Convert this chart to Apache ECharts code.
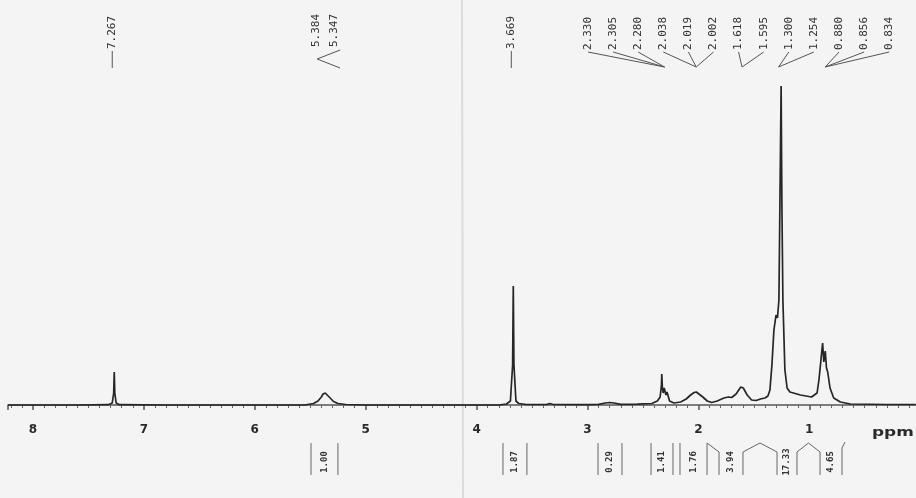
<!DOCTYPE html>
<html><head><meta charset="utf-8">
<script src="https://cdn.jsdelivr.net/npm/echarts@6/dist/echarts.min.js"></script>
<style>html,body{margin:0;padding:0;background:#f4f4f4}#c{width:916px;height:498px}</style>
</head><body><div id="c"></div>
<script>
// ---- spectrum trace (chemical shift in ppm, relative intensity) ----
const shiftPpm = [8.225,7.60,7.32,7.285,7.272,7.267,7.262,7.250,7.22,6.80,6.20,5.55,5.47,5.43,5.40,5.384,5.365,5.347,5.32,5.29,5.25,5.18,5.00,4.40,3.80,3.73,3.695,3.675,3.669,3.663,3.645,3.62,3.55,3.37,3.34,3.31,3.00,2.90,2.84,2.80,2.76,2.70,2.55,2.42,2.37,2.345,2.333,2.330,2.325,2.318,2.308,2.305,2.300,2.293,2.283,2.280,2.275,2.26,2.22,2.16,2.11,2.07,2.038,2.019,2.002,1.96,1.92,1.88,1.83,1.77,1.73,1.70,1.66,1.618,1.595,1.56,1.52,1.48,1.44,1.40,1.373,1.355,1.337,1.319,1.300,1.287,1.274,1.265,1.254,1.247,1.238,1.22,1.20,1.175,1.08,0.98,0.93,0.913,0.895,0.880,0.869,0.856,0.845,0.834,0.813,0.78,0.72,0.63,0.30,0.04];
const intensity = [0,0,0.3,2,12,33,12,2,0.3,0,0,0,1.5,4,8,11,12,11,7,3.5,1.5,0.5,0,0,0,1,4,40,119,40,4,1.5,0.5,0.5,1.5,0.5,0.3,0.6,2,2.5,2,0.6,0.8,1.5,4,8,20,31,18,12,17,19,15,10,13,15,11,4,2,3,6,10,12.5,13,12,8,4,2.5,4,7,8,7.5,11,18,17,10,5,4.5,6,7,9,15,40,75,90,87,105,200,319,200,105,35,17,13,10,8,12,25,45,62,43,54,37,33,17,7,3,1,0.5,0.5];

// ---- axis ----
const axisMin = 0, axisMax = 8.225, axisInterval = 1;
const axisUnit = 'ppm';

// ---- peak labels ----
const singlePeaks = ['7.267', '3.669'];
const pairPeaks = ['5.384', '5.347'];
const peakGroups = [
  ['2.330','2.305','2.280'],
  ['2.038','2.019','2.002'],
  ['1.618','1.595'],
  ['1.300','1.254'],
  ['0.880','0.856','0.834']
];

// ---- integrals (label, region start ppm, region end ppm) ----
const integralValues = ['1.00','1.87','0.29','1.41','1.76','3.94','17.33','4.65'];
const integralFrom   = [5.493, 3.762, 2.905, 2.427, 2.166, 1.814, 1.291, 0.903];
const integralTo     = [5.250, 3.546, 2.689, 2.229, 1.922, 1.598, 1.111, 0.705];
const integralLinked = [false, false, false, false, true, true, true, false];

const chart = echarts.init(document.getElementById('c'), null, {renderer: 'canvas'});
const ink = '#333';
chart.setOption({
  backgroundColor: '#f4f4f4',
  animation: false,
  grid: {left: 8, right: -4.2, top: 85, bottom: 81, containLabel: false, outerBoundsMode: 'none'},
  xAxis: {
    type: 'value', inverse: true, min: axisMin, max: axisMax, interval: axisInterval,
    axisLine: {show: true, lineStyle: {color: '#555', width: 1.5}},
    axisTick: {show: true, length: 5, lineStyle: {color: '#555', width: 1.5}},
    minorTick: {show: true, splitNumber: 10, length: 3, lineStyle: {color: '#666', width: 1}},
    splitLine: {show: false},
    axisLabel: {margin: 7, color: '#2a2a2a', fontSize: 12, fontWeight: 'bold', fontFamily: 'DejaVu Sans',
      formatter: v => v === 0 ? '' : String(v), showMinLabel: true, showMaxLabel: false}
  },
  yAxis: {type: 'value', min: -12, max: 320, show: false},
  series: [{
    type: 'line', symbol: 'none', clip: true,
    data: shiftPpm.map((p, i) => [p, intensity[i]]),
    lineStyle: {color: '#262626', width: 1.7},
    z: 3
  }]
});

const px = p => chart.convertToPixel({xAxisIndex: 0}, p);
const g = [];
const vText = (x, y, s, size, align, weight) => ({
  type: 'text', x: x, y: y, rotation: Math.PI / 2, silent: true,
  style: {text: s, fill: ink, font: (weight || 'normal') + ' ' + size + 'px "DejaVu Sans Mono"',
    align: align, textAlign: align, verticalAlign: 'middle', textVerticalAlign: 'middle'}
});
const poly = (pts, color, w) => ({type: 'polyline', silent: true, shape: {points: pts},
  style: {stroke: color || '#555', lineWidth: w || 1, fill: null}});

// fold of the paper
g.push({type: 'line', silent: true, z: -1, shape: {x1: 462, y1: 0, x2: 463, y2: 498},
  style: {stroke: 'rgba(0,0,0,0.10)', lineWidth: 2}});

// single peak labels with a dash
singlePeaks.forEach(s => {
  const x = px(parseFloat(s)) - 2;
  g.push(vText(x, 49, s, 11, 'left'));
  g.push(poly([[x, 51], [x, 68]], '#555', 1));
});
// pair
{
  const xm = (px(parseFloat(pairPeaks[0])) + px(parseFloat(pairPeaks[1]))) / 2;
  g.push(vText(xm - 9, 47, pairPeaks[0], 11, 'left'));
  g.push(vText(xm + 9, 47, pairPeaks[1], 11, 'left'));
  g.push(poly([[xm + 15, 50], [xm - 8, 59], [xm + 15, 68]], '#555', 1));
}
// crowded groups
{
  let k = 0;
  const x0 = 588, step = 25.1;
  peakGroups.forEach(grp => {
    const vals = grp.map(parseFloat);
    const target = px(vals.reduce((a, b) => a + b, 0) / vals.length);
    grp.forEach(s => {
      const xl = x0 + step * k;
      g.push(vText(xl, 50, s, 11, 'left'));
      g.push(poly([[xl, 52], [target, 67]], '#555', 1));
      k++;
    });
  });
}
// integrals
const yHi = 443, yLo = 452, yBot = 475;
integralValues.forEach((s, i) => {
  const xa = px(integralFrom[i]), xb = px(integralTo[i]);
  const leftLinked = i > 0 && integralLinked[i - 1];
  const rightLinked = integralLinked[i];
  g.push(poly([[xa, leftLinked ? yLo : yHi], [xa, yBot]], '#666', 1));
  const rightTop = rightLinked ? (leftLinked ? yLo : yHi) : (i === integralValues.length - 1 ? 448 : yHi);
  g.push(poly([[xb, rightTop], [xb, yBot]], '#666', 1));
  g.push(vText((xa + xb) / 2, 462, s, 9, 'center', 'bold'));
  if (rightLinked) {
    const xn = px(integralFrom[i + 1]);
    const vx = leftLinked ? (xb + xn) / 2 : xb;
    g.push(poly([[xb, rightTop], [vx, yHi], [xn, yLo]], '#666', 1));
  }
  if (i === integralValues.length - 1) g.push(poly([[xb, 448], [xb + 3, 442]], '#666', 1));
});
// unit label
g.push({type: 'text', x: 872, y: 433, silent: true, scaleX: 1.3,
  style: {text: axisUnit, fill: '#2a2a2a', font: 'bold 13px "DejaVu Sans"', align: 'left', textAlign: 'left',
    verticalAlign: 'middle', textVerticalAlign: 'middle'}});

chart.setOption({graphic: {elements: g}});
</script>
</body></html>
